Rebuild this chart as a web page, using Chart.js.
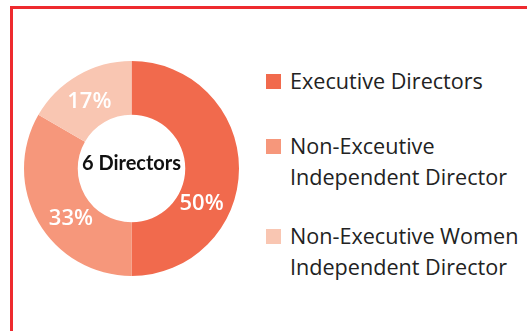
<!DOCTYPE html>
<html>
<head>
<meta charset="utf-8">
<script src="https://cdn.jsdelivr.net/npm/chart.js@4/dist/chart.umd.min.js"></script>
<style>
  html, body { margin: 0; padding: 0; background: #fff; }
  body { width: 527px; height: 331px; overflow: hidden; position: relative; font-family: "Open Sans", Lato, sans-serif; }
  .frame { position: absolute; left: 10px; top: 6px; width: 600px; height: 400px; border: 3px solid #ee2a2f; box-sizing: border-box; }
  .chartBox { position: absolute; left: 24px; top: 61px; width: 215px; height: 215px; }
  .legend { position: absolute; left: 266px; top: 65px; }
  .legend .item { display: flex; align-items: flex-start; }
  .legend .swatch { width: 15px; height: 15px; margin-top: 9px; margin-right: 9px; flex: none; }
  .legend .text { font-size: 21.6px; line-height: 31px; color: #222; white-space: nowrap; }
  .legend .item:nth-child(2) { margin-top: 34px; }
  .legend .item:nth-child(3) { margin-top: 28px; }
</style>
</head>
<body>
<div class="frame"></div>
<div class="chartBox"><canvas id="donut"></canvas></div>
<div class="legend" id="legend"></div>
<script>
let categories = [
  ['Executive Directors'],
  ['Non-Exceutive', 'Independent Director'],
  ['Non-Executive Women', 'Independent Director']
];
let directorCounts = [3, 2, 1];
let percentLabels = ['50%', '33%', '17%'];
let sliceColors = ['#f16a4d', '#f6977b', '#f9c6b2'];
let centerText = '6 Directors';
// where along each slice the % label sits (0 = start, 1 = end)
let labelAlong = [0.65, 0.42, 0.46];

let $legend = document.getElementById('legend');
categories.forEach((lines, i) => {
  let item = document.createElement('div');
  item.className = 'item';
  item.innerHTML = `<div class="swatch" style="background:${sliceColors[i]}"></div><div class="text">${lines.join('<br>')}</div>`;
  $legend.appendChild(item);
});

let sliceLabels = {
  id: 'sliceLabels',
  afterDatasetsDraw(chart) {
    let ctx = chart.ctx;
    let meta = chart.getDatasetMeta(0);
    ctx.save();
    ctx.fillStyle = '#fff';
    ctx.font = '600 22px "Open Sans", Lato, sans-serif';
    ctx.textAlign = 'center';
    ctx.textBaseline = 'middle';
    meta.data.forEach((arc, i) => {
      let p = arc.getProps(['x', 'y', 'startAngle', 'endAngle', 'innerRadius', 'outerRadius'], true);
      let a = p.startAngle + (p.endAngle - p.startAngle) * labelAlong[i];
      let r = (p.innerRadius + p.outerRadius) / 2 - 2;
      ctx.fillText(percentLabels[i], p.x + Math.cos(a) * r, p.y + Math.sin(a) * r);
    });
    // centre text
    let c = meta.data[0];
    ctx.fillStyle = '#111';
    ctx.font = 'bold 20px Lato, "Open Sans", sans-serif';
    ctx.fillText(centerText, c.x, c.y - 5);
    ctx.restore();
  }
};

new Chart(document.getElementById('donut'), {
  type: 'doughnut',
  data: {
    labels: categories.map((l) => l.join(' ')),
    datasets: [{
      data: directorCounts,
      backgroundColor: sliceColors,
      borderWidth: 0,
      hoverOffset: 0
    }]
  },
  options: {
    responsive: true,
    maintainAspectRatio: false,
    animation: false,
    cutout: '50%',
    layout: { padding: 0 },
    plugins: {
      legend: { display: false },
      tooltip: { enabled: false }
    }
  },
  plugins: [sliceLabels]
});
</script>
</body>
</html>
